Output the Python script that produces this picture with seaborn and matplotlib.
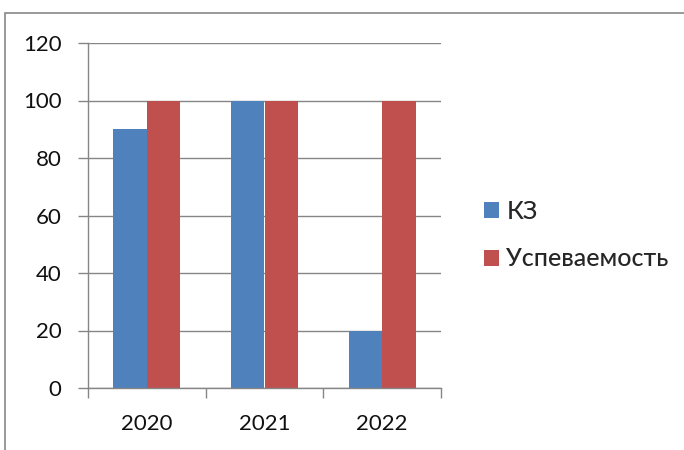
import matplotlib
matplotlib.use("Agg")
import matplotlib.pyplot as plt
import seaborn as sns
import pandas as pd
from matplotlib.patches import Rectangle, Patch

years = ["2020", "2021", "2022"]
series_names = ["КЗ", "Успеваемость"]
kz_values = [90, 100, 20]
usp_values = [100, 100, 100]
y_ticks = [0, 20, 40, 60, 80, 100, 120]
colors = ["#4F81BD", "#C0504D"]

df = pd.DataFrame({
    "year": years * 2,
    "series": [series_names[0]] * 3 + [series_names[1]] * 3,
    "value": kz_values + usp_values,
})

sns.set_style("white")
plt.rcParams["font.family"] = ["Lato", "DejaVu Sans"]

fig = plt.figure(figsize=(6.84, 4.5), dpi=100)
ax = fig.add_axes([88 / 684, 62 / 450, (441 - 88) / 684, (388 - 43) / 450])

sns.barplot(data=df, x="year", y="value", hue="series", order=years,
            hue_order=series_names, palette=colors, width=2 / 3.5, gap=0,
            saturation=1, edgecolor="none", linewidth=0, ax=ax, legend=False)

ax.set_ylim(0, 120)
ax.set_xlim(-0.5, 2.5)
ax.set_yticks(y_ticks)
ax.yaxis.grid(True, color="#868686", linewidth=1)
ax.set_axisbelow(True)
ax.set_xlabel("")
ax.set_ylabel("")
for s in ["top", "right"]:
    ax.spines[s].set_visible(False)
for s in ["left", "bottom"]:
    ax.spines[s].set_color("#868686")
    ax.spines[s].set_linewidth(1)

ax.set_xticks([0, 1, 2])
ax.set_xticklabels(years)
ax.set_xticks([-0.5, 0.5, 1.5, 2.5], minor=True)
ax.tick_params(axis="x", which="major", bottom=False, length=0, pad=19, labelsize=16,
               labelcolor="#111111")
ax.tick_params(axis="x", which="minor", bottom=True, length=7, color="#868686", width=1,
               direction="out")
ax.tick_params(axis="y", left=True, length=7, color="#868686", width=1, direction="out",
               pad=12, labelsize=16, labelcolor="#111111")

handles = [Patch(facecolor=c, edgecolor="none") for c in colors]
fig.legend(handles, series_names, loc="center left", bbox_to_anchor=(484 / 684, 1 - 235 / 450),
           frameon=False, borderpad=0, borderaxespad=0, handlelength=0.6, handleheight=0.6,
           handletextpad=0.3, labelspacing=1.0, prop={"size": 18, "weight": "medium"})

fig.patches.append(Rectangle((5 / 684, -0.1), 2, 1 - 13 / 450 + 0.1,
                             transform=fig.transFigure, fill=False,
                             edgecolor="#888888", linewidth=1.2))

fig.savefig("out.png", dpi=100, facecolor="white")
